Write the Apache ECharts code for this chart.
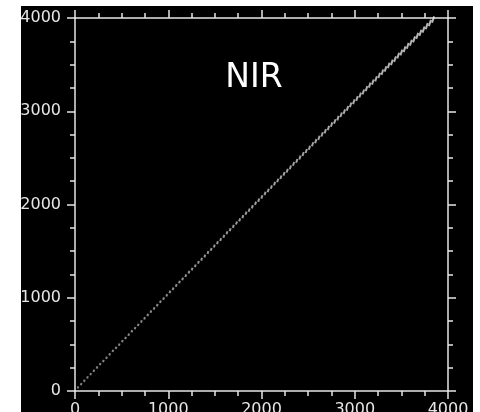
<!DOCTYPE html>
<html>
<head>
<meta charset="utf-8">
<script src="https://cdn.jsdelivr.net/npm/echarts@6/dist/echarts.min.js"></script>
<style>html,body{margin:0;padding:0;background:#fff}#c{width:480px;height:412px}</style>
</head>
<body>
<div id="c"></div>
<script>
const title = 'NIR';
const axisMin = 0, axisMax = 4000, axisStep = 1000;
const tickLabels = ['0', '1000', '2000', '3000', '4000'];
const xs = [32,66,100,134,168,202,236,270,304,338,372,406,440,474,508,542,576,610,644,678,
  712,746,780,814,848,882,916,950,984,1018,1052,1086,1120,1154,1188,1222,1256,1290,1324,1358,
  1392,1426,1460,1494,1528,1562,1596,1630,1664,1698,1732,1766,1800,1834,1868,1902,1936,1970,2004,2038,
  2072,2106,2140,2174,2208,2242,2276,2310,2344,2378,2412,2446,2480,2514,2548,2582,2616,2650,2684,2718,
  2752,2786,2820,2854,2888,2922,2956,2990,3024,3058,3092,3126,3160,3194,3228,3262,3296,3330,3364,3398,
  3432,3466,3500,3534,3568,3602,3636,3670,3704,3738,3772,3806,3840];
const ys = [38,74,110,146,180,217,252,289,322,357,393,430,463,498,535,568,604,641,674,709,
  746,780,815,852,885,920,958,991,1026,1063,1096,1132,1169,1202,1237,1274,1308,1343,1380,1413,
  1448,1485,1519,1554,1591,1624,1659,1697,1730,1765,1802,1835,1870,1907,1940,1976,2013,2046,2081,2118,
  2151,2187,2224,2257,2292,2329,2363,2398,2435,2468,2503,2541,2574,2609,2646,2679,2715,2752,2785,2820,
  2857,2891,2926,2963,2996,3031,3069,3102,3137,3174,3207,3243,3280,3313,3348,3385,3419,3454,3491,3524,
  3559,3597,3630,3665,3702,3735,3771,3808,3841,3876,3913,3947,3983];

const points = xs.map((x, i) => [x, ys[i]]);
const fg = '#e6e6e6';
const font = 'DejaVu Sans';

function axisCommon(pos, showLabel, isY) {
  return {
    type: 'value', position: pos, min: axisMin, max: axisMax, interval: axisStep,
    axisLine: {show: true, onZero: false, lineStyle: {color: fg, width: 1.5}},
    axisTick: {show: true, inside: false, length: 8, lineStyle: {color: fg, width: 1.5}},
    minorTick: {show: true, splitNumber: 4, length: 5, lineStyle: {color: fg, width: 1.5}},
    splitLine: {show: false},
    minorSplitLine: {show: false},
    axisLabel: {
      show: showLabel, color: fg, fontFamily: font, fontSize: 16,
      margin: isY ? 14 : 11,
      formatter: v => tickLabels[Math.round((v - axisMin) / axisStep)]
    }
  };
}

const chart = echarts.init(document.getElementById('c'), null, {renderer: 'canvas'});
chart.setOption({
  backgroundColor: '#000',
  animation: false,
  grid: {left: 75, top: 18, right: 32, bottom: 21, containLabel: false, outerBoundsMode: 'none'},
  xAxis: [axisCommon('bottom', true, false), axisCommon('top', false, false)],
  yAxis: [axisCommon('left', true, true), axisCommon('right', false, true)],
  series: [{
    type: 'scatter', xAxisIndex: 0, yAxisIndex: 0,
    data: points,
    symbol: 'rect',
    symbolRotate: -18,
    symbolSize: v => [2, 2.3 + Math.pow(v[0] / 1000, 2) * 0.3],
    itemStyle: {
      color: p => {
        const t = Math.min(1, p.value[0] / 3800);
        const c = Math.round(160 + 70 * t);
        return 'rgb(' + c + ',' + c + ',' + c + ')';
      }
    }
  }],
  graphic: {elements: [
    {type: 'text', x: 254, y: 78, z: 50, style: {text: title, fill: '#fff', font: '33px "DejaVu Sans"', textAlign: 'center', textVerticalAlign: 'middle'}},
    {type: 'rect', z: 100, shape: {x: 0, y: 0, width: 480, height: 6}, style: {fill: '#fff'}},
    {type: 'rect', z: 100, shape: {x: 0, y: 0, width: 21, height: 412}, style: {fill: '#fff'}},
    {type: 'rect', z: 100, shape: {x: 473, y: 0, width: 7, height: 412}, style: {fill: '#fff'}}
  ]}
});
</script>
</body>
</html>
